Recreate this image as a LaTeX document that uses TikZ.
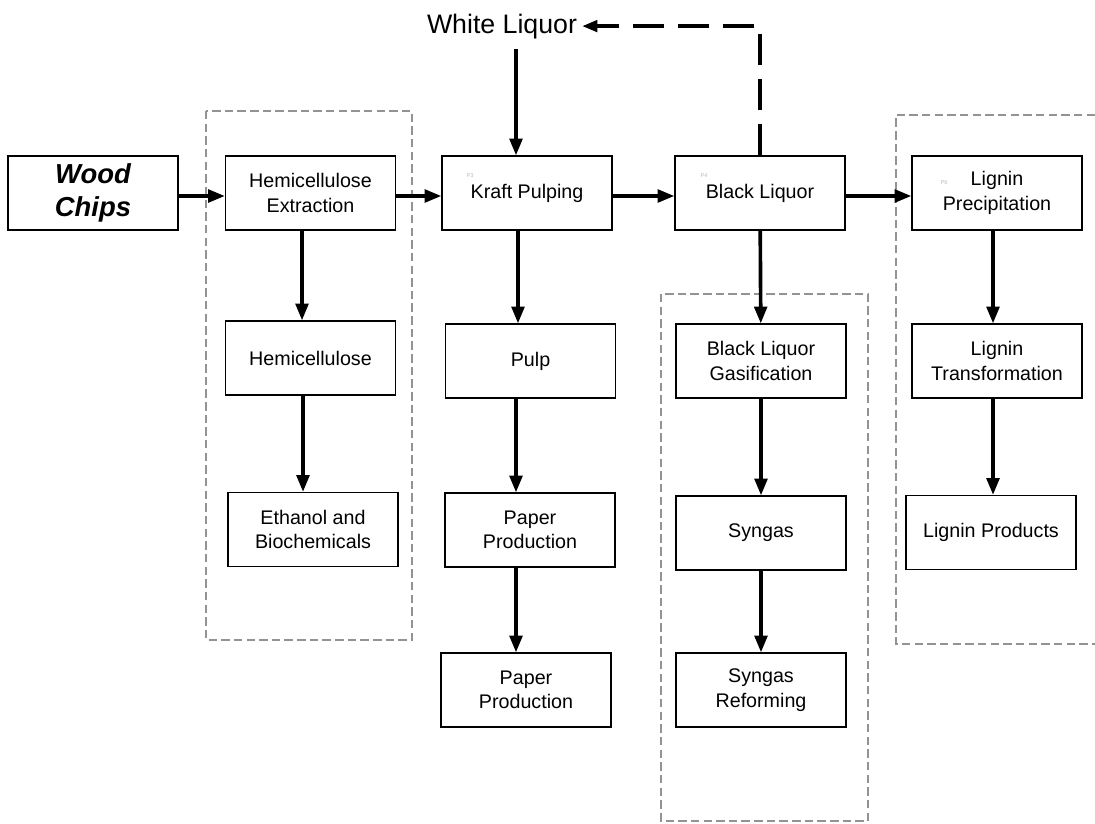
\documentclass[tikz,border=0pt]{standalone}
\usepackage{fontspec}
\setmainfont{Liberation Sans}
\usetikzlibrary{arrows.meta}

\begin{document}
\begin{tikzpicture}[x=0.025cm, y=-0.025cm]

\tikzset{ box/.style={draw, line width=0.8pt, minimum width=4.25cm,
    minimum height=1.85cm, align=center, inner sep=2pt,
    font={\fontsize{14}{17.5}\selectfont}},
  flow/.style={line width=2.6pt, -{Triangle[length=12pt, width=9pt]}},
  backflow/.style={line width=2.8pt, dash pattern=on 22pt off 10pt,
    -{Triangle[length=11pt, width=8pt]}},
  group/.style={gray!85, line width=1pt, dash pattern=on 6pt off 3pt},
  tag/.style={gray!55, font={\fontsize{4}{4}\selectfont}, inner sep=0pt}
}

\useasboundingbox (0,0) rectangle (1095,823);

% Groups
\draw[group] (206,111) rectangle (412,640);
\draw[group] (661,294) rectangle (868,821);
\draw[group] (1095,115) -- (896,115) -- (896,644) -- (1095,644);

% Top row
\node[box, font={\fontsize{19.5}{24}\selectfont\bfseries\itshape}] (chips) at (93, 193) {Wood\\Chips};
\node[box] (hemiext) at (310.5, 193) {Hemicellulose\\Extraction};
\node[box] (kraft) at (527, 193) {Kraft Pulping};
\node[box] (black) at (760, 193) {Black Liquor};
\node[box] (ligprec) at (997, 193) {Lignin\\Precipitation};
\node[font={\fontsize{19}{23}\selectfont}, anchor=base] (wl) at (502, 33) {White Liquor};

\node[tag] (p3) at (470, 176) {P3};
\node[tag] (p4) at (704, 176) {P4};
\node[tag] (p6) at (944, 183) {P6};

% Hemicellulose
\node[box] (hemi) at (310.5, 358) {Hemicellulose};
\node[box] (ethanol) at (313, 529.5) {Ethanol and\\Biochemicals};

% Pulp and paper
\node[box] (pulp) at (530.5, 361) {Pulp};
\node[box] (paper) at (530, 530) {Paper\\Production};
\node[box] (paperb) at (526, 690) {Paper\\Production};

% Gasification
\node[box] (gasif) at (761, 361) {Black Liquor\\Gasification};
\node[box] (syngas) at (761, 533) {Syngas};
\node[box] (reform) at (761, 690) {Syngas\\Reforming};

% Lignin
\node[box] (ligtrans) at (997, 361) {Lignin\\Transformation};
\node[box] (ligprod) at (991, 532.5) {Lignin Products};

% Main line
\draw[flow] ([yshift=-0.075cm]chips.east) -- ([yshift=-0.075cm]hemiext.west);
\draw[flow] ([yshift=-0.075cm]hemiext.east) -- ([yshift=-0.075cm]kraft.west);
\draw[flow] ([yshift=-0.075cm]kraft.east) -- ([yshift=-0.075cm]black.west);
\draw[flow] ([yshift=-0.075cm]black.east) -- ([yshift=-0.075cm]ligprec.west);

% Columns
\draw[flow] ([xshift=-0.2125cm]hemiext.south) -- ([xshift=-0.2125cm]hemi.north);
\draw[flow] ([xshift=-0.1875cm]hemi.south) -- ([xshift=-0.25cm]ethanol.north);

\draw[flow] ([xshift=-0.225cm]kraft.south) -- ([xshift=-0.3125cm]pulp.north);
\draw[flow] ([xshift=-0.3625cm]pulp.south) -- ([xshift=-0.35cm]paper.north);
\draw[flow] ([xshift=-0.35cm]paper.south) -- ([xshift=-0.25cm]paperb.north);

\draw[flow] (black) -- (gasif);
\draw[flow] (gasif) -- (syngas);
\draw[flow] (syngas) -- (reform);

\draw[flow] ([xshift=-0.1cm]ligprec.south) -- ([xshift=-0.1cm]ligtrans.north);
\draw[flow] ([xshift=-0.1cm]ligtrans.south) -- ([xshift=0.05cm]ligprod.north);

% White liquor loop
\draw[flow] ([xshift=0.35cm, yshift=-0.14cm]wl.south) -- ([xshift=-0.275cm]kraft.north);
\draw[backflow] (black.north) |- (wl.east);

\end{tikzpicture}
\end{document}
